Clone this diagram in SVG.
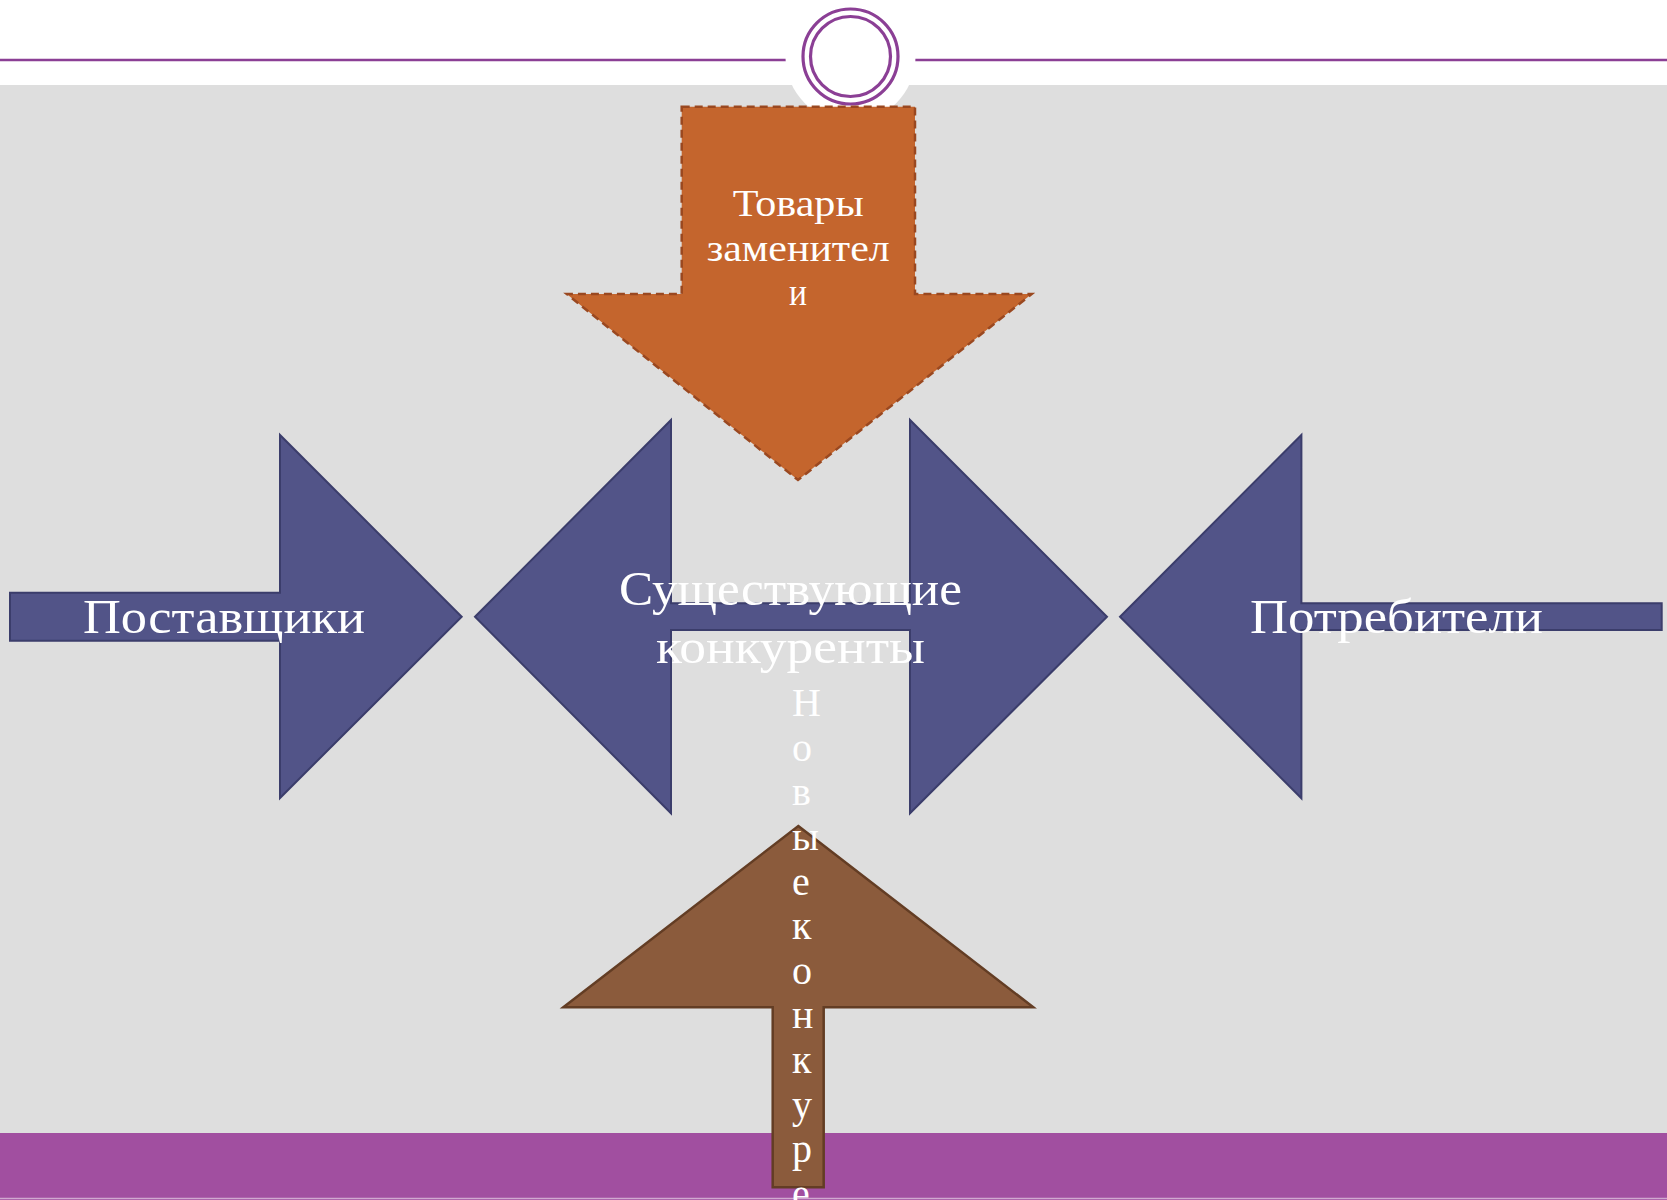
<svg xmlns="http://www.w3.org/2000/svg" width="1667" height="1200" viewBox="0 0 1667 1200">
  <style>
    .lbl { font-family: "Liberation Serif", "DejaVu Serif", serif; fill: #ffffff; }
    .big { font-size: 48px; }
    .mid { font-size: 38px; }
    .vert { font-size: 40px; }
    .blue { fill: #525488; stroke: #3b3d6b; stroke-width: 2; stroke-linejoin: miter; }
    .orange { fill: #c4652d; stroke: #9a4820; stroke-width: 2.5; stroke-dasharray: 8 5; }
    .brown { fill: #8b5b3c; stroke: #633d24; stroke-width: 2.5; }
    .ring { fill: none; stroke: #8b3f95; stroke-width: 3.2; }
  </style>
  <rect x="0" y="0" width="1667" height="1200" fill="#ffffff"/>
  <rect x="0" y="85" width="1667" height="1048" fill="#dedede"/>
  <rect x="0" y="1133" width="1667" height="67" fill="#a14fa0"/>
  <line x1="0" y1="1198.5" x2="1667" y2="1198.5" stroke="#d0a8d0" stroke-width="1.5"/>

  <g id="header">
    <line x1="0" y1="60" x2="787" y2="60" stroke="#8b3f95" stroke-width="2.5"/>
    <line x1="915" y1="60" x2="1667" y2="60" stroke="#8b3f95" stroke-width="2.5"/>
    <circle cx="850.5" cy="57" r="65" fill="#ffffff"/>
    <circle class="ring" cx="850.5" cy="56.5" r="47.5"/>
    <circle class="ring" cx="850.5" cy="56.5" r="40"/>
  </g>

  <g id="connectors"></g>

  <g id="node-substitutes">
    <polygon class="orange" points="681.7,106.7 915,106.7 915,294 1031.7,294 798,480 566.7,294 681.7,294"/>
    <text class="lbl mid">
      <tspan x="732.7" y="216" textLength="131" lengthAdjust="spacingAndGlyphs">Товары</tspan>
      <tspan x="706.7" y="260.7" textLength="183" lengthAdjust="spacingAndGlyphs">заменител</tspan>
      <tspan x="789" y="305" textLength="18" lengthAdjust="spacingAndGlyphs">и</tspan>
    </text>
  </g>

  <g id="node-suppliers">
    <polygon class="blue" points="10,592.7 280,592.7 280,435 461.7,616.7 280,798 280,640.7 10,640.7"/>
    <text class="lbl big" x="83" y="633" textLength="282" lengthAdjust="spacingAndGlyphs">Поставщики</text>
  </g>

  <g id="node-consumers">
    <polygon class="blue" points="1661.7,603.3 1301.4,603.3 1301.4,435 1120,616.7 1301.4,798.3 1301.4,630 1661.7,630"/>
    <text class="lbl big" x="1250" y="633" textLength="293" lengthAdjust="spacingAndGlyphs">Потребители</text>
  </g>

  <g id="node-existing">
    <polygon class="blue" points="475,616.7 671,420 671,603.3 910,603.3 910,420 1107,616.7 910,813.3 910,630 671,630 671,813.3"/>
    <text class="lbl big">
      <tspan x="619" y="605" textLength="343" lengthAdjust="spacingAndGlyphs">Существующие</tspan>
      <tspan x="656" y="663" textLength="269" lengthAdjust="spacingAndGlyphs">конкуренты</tspan>
    </text>
  </g>

  <g id="node-new">
    <polygon class="brown" points="798.3,826 1033.3,1007.3 823.7,1007.3 823.7,1187.3 772.7,1187.3 772.7,1007.3 563.3,1007.3"/>
    <text class="lbl vert" x="792" y="716">
      <tspan x="792" y="716">Н</tspan>
      <tspan x="792" y="760.6">о</tspan>
      <tspan x="792" y="805.2">в</tspan>
      <tspan x="792" y="849.9">ы</tspan>
      <tspan x="792" y="894.5">е</tspan>
      <tspan x="792" y="939.1">к</tspan>
      <tspan x="792" y="983.8">о</tspan>
      <tspan x="792" y="1028.4">н</tspan>
      <tspan x="792" y="1073">к</tspan>
      <tspan x="792" y="1117.7">у</tspan>
      <tspan x="792" y="1162.3">р</tspan>
      <tspan x="792" y="1206.9">е</tspan>
    </text>
  </g>
</svg>
